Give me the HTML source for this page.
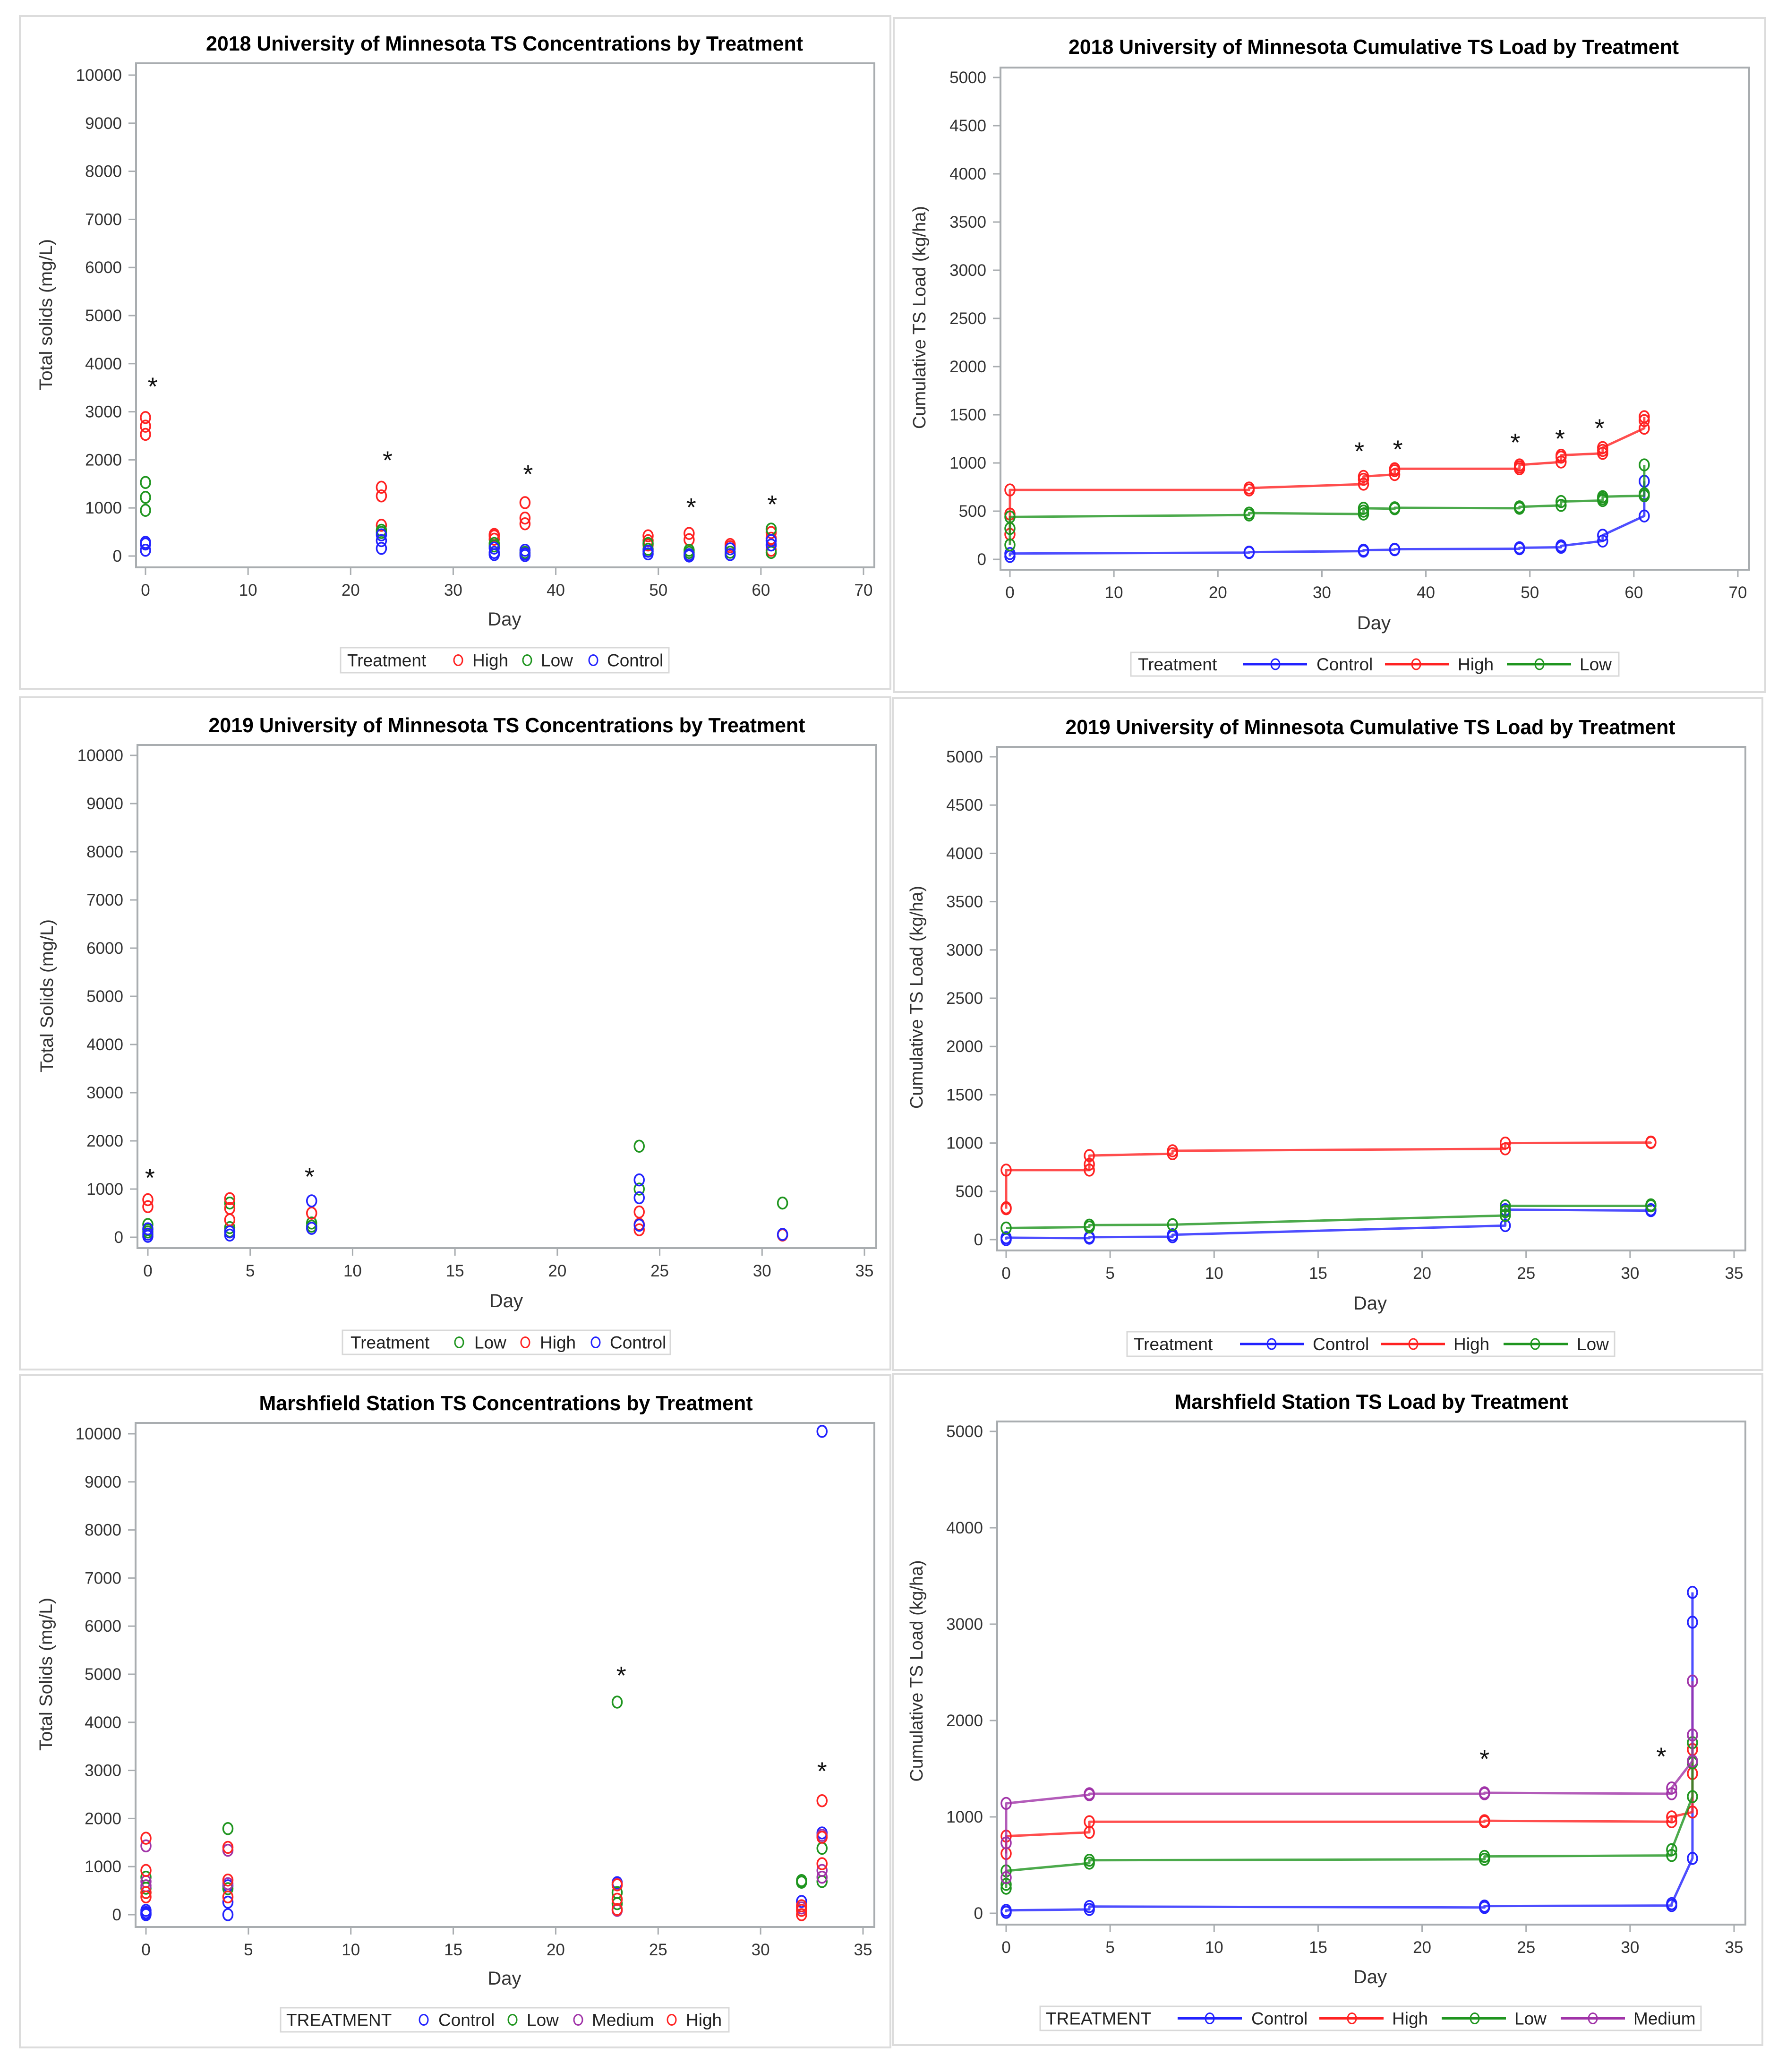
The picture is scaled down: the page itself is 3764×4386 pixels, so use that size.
<!DOCTYPE html>
<html><head><meta charset="utf-8"><style>
html,body{margin:0;padding:0;background:#fff;}
svg{display:block;font-family:"Liberation Sans",Arial,sans-serif;}
</style></head><body>
<svg id="root" width="3764" height="4386" viewBox="0 0 3764 4386" xmlns="http://www.w3.org/2000/svg">
<rect x="0" y="0" width="3764" height="4386" fill="#fff"/>
</svg>
<script>
// ---------- Panel 1: 2018 UMN TS concentrations ----------
const c18HighDay=[0,0,0,23,23,23,34,34,34,37,37,37,49,49,49,53,53,57,57,61,61,61];
const c18HighVal=[2880,2700,2530,1430,1250,640,450,415,350,1110,790,670,420,320,230,470,340,240,195,490,370,120];
const c18LowDay=[0,0,0,23,23,34,34,37,49,49,53,53,57,61,61];
const c18LowVal=[1530,1220,950,535,490,260,210,75,260,140,120,75,80,560,75];
const c18CtrlDay=[0,0,0,23,23,23,34,34,34,37,37,37,49,49,53,53,57,57,61,61];
const c18CtrlVal=[285,250,120,440,320,160,165,75,30,120,45,10,100,45,30,0,150,30,320,230];
const c18StarDay=[0.7,23.6,37.3,53.2,61.1];
const c18StarVal=[3600,2070,1780,1090,1150];
// ---------- Panel 2: 2018 UMN cumulative load ----------
const l18CtrlDay=[0,0,23,23,34,34,37,37,49,49,53,53,57,57,61,61,61];
const l18CtrlVal=[30,60,70,75,85,95,100,105,110,120,125,140,190,250,450,660,810];
const l18HighDay=[0,0,0,23,23,34,34,34,37,37,37,49,49,49,53,53,53,57,57,57,61,61,61];
const l18HighVal=[260,470,720,720,740,780,830,860,880,920,940,940,960,980,1010,1060,1080,1100,1130,1160,1360,1440,1480];
const l18LowDay=[0,0,0,23,23,34,34,34,37,37,49,49,53,53,57,57,57,61,61,61];
const l18LowVal=[150,320,440,460,480,470,500,530,525,535,530,545,560,600,610,630,650,660,680,980];
const l18StarDay=[33.6,37.3,48.6,52.9,56.7];
const l18StarVal=[1160,1180,1250,1290,1400];
// ---------- Panel 3: 2019 UMN TS concentrations ----------
const c19LowDay=[0,0,0,4,4,4,8,8,24,24,31];
const c19LowVal=[265,155,110,710,200,130,295,230,1890,1000,710];
const c19HighDay=[0,0,4,4,4,8,24,24,24,31];
const c19HighVal=[780,635,800,600,360,500,525,270,155,45];
const c19CtrlDay=[0,0,0,4,4,8,8,24,24,24,31];
const c19CtrlVal=[175,65,20,110,45,755,185,1190,820,250,60];
const c19StarDay=[0.1,7.9];
const c19StarVal=[1310,1335];
// ---------- Panel 4: 2019 UMN cumulative load ----------
const l19CtrlDay=[0,0,4,4,8,8,24,24,31,31];
const l19CtrlVal=[0,20,15,25,30,50,145,310,300,310];
const l19HighDay=[0,0,0,4,4,4,8,8,24,24,31,31];
const l19HighVal=[320,330,720,720,780,870,890,920,940,1000,1005,1010];
const l19LowDay=[0,4,4,8,24,24,24,31,31];
const l19LowVal=[120,130,150,155,250,290,350,350,360];
// ---------- Panel 5: Marshfield concentrations ----------
const cmCtrlDay=[0,0,0,0,4,4,4,23,32,33,33];
const cmCtrlVal=[90,45,0,20,600,260,0,665,275,10050,1700];
const cmLowDay=[0,0,0,4,4,23,23,23,32,32,33,33];
const cmLowVal=[780,550,460,1790,540,4420,460,230,710,675,1380,690];
const cmMedDay=[0,0,0,4,4,23,23,32,33,33,33];
const cmMedVal=[1430,600,690,1340,645,630,90,140,1650,920,780];
const cmHighDay=[0,0,0,0,4,4,4,23,23,23,32,32,32,33,33,33];
const cmHighVal=[1590,920,370,460,1400,720,370,620,320,110,185,90,0,2370,1610,1060];
const cmStarDay=[23.2,33.0];
const cmStarVal=[5050,3060];
// ---------- Panel 6: Marshfield load ----------
const lmCtrlDay=[0,0,4,4,23,23,32,32,33,33,33];
const lmCtrlVal=[10,30,40,70,60,75,80,100,570,3020,3330];
const lmHighDay=[0,0,4,4,23,23,32,32,33,33,33];
const lmHighVal=[620,800,840,950,950,960,950,1000,1050,1450,1700];
const lmLowDay=[0,0,0,4,4,23,23,32,32,33,33,33];
const lmLowVal=[260,300,440,520,550,560,590,600,660,1210,1560,1770];
const lmMedDay=[0,0,0,4,4,23,23,32,32,33,33,33];
const lmMedVal=[370,730,1140,1230,1240,1240,1250,1240,1300,1580,1850,2410];
const lmStarDay=[23.0,31.5];
const lmStarVal=[1640,1665];

const NS='http://www.w3.org/2000/svg';
const root=document.getElementById('root');
const COL={Control:'#2222ff',High:'#ff2222',Low:'#1f951f',Medium:'#a033a8'};

function mk(tag,parent){const e=document.createElementNS(NS,tag);parent.appendChild(e);return e;}
function sa(e,o){for(const k in o)e.setAttribute(k,o[k]);}

function drawPanel(cfg){
  const g=mk('g',root);
  
  
  const xs=d=>cfg.x0+(d/cfg.xmax)*(cfg.x1-cfg.x0);
  const ys=v=>cfg.y0-(v/cfg.ymax)*(cfg.y0-cfg.y1);
  // panel border
  const pb=mk('rect',g);
  sa(pb,{x:cfg.box[0],y:cfg.box[1],width:cfg.box[2]-cfg.box[0],height:cfg.box[3]-cfg.box[1],fill:'none',stroke:'#dcdcdc','stroke-width':4});
  
  
  // title
  const t=mk('text',g);
  sa(t,{x:cfg.title[1],y:cfg.title[2],'text-anchor':'middle','font-size':44,'font-weight':'bold',fill:'#000',textLength:cfg.title[3],lengthAdjust:'spacingAndGlyphs'});
  t.textContent=cfg.title[0];
  
  
  // plot frame
  const f=mk('rect',g);
  sa(f,{x:cfg.rect[0],y:cfg.rect[1],width:cfg.rect[2]-cfg.rect[0],height:cfg.rect[3]-cfg.rect[1],fill:'#fff',stroke:'#a9adb0','stroke-width':4});
  
  
  // x ticks
  const xg=mk('g',g);
  
  
  for(let d=0;d<=cfg.xmax;d+=cfg.xstep){
    const tk=mk('line',xg);
    sa(tk,{x1:xs(d),x2:xs(d),y1:cfg.rect[3],y2:cfg.rect[3]+16,stroke:'#a9adb0','stroke-width':3});
    
    
    const lb=mk('text',xg);
    sa(lb,{x:xs(d),y:cfg.rect[3]+60,'text-anchor':'middle','font-size':35,fill:'#333'});
    lb.textContent=String(d);
    
    
  }
  const xt=mk('text',xg);
  sa(xt,{x:(xs(0)+xs(cfg.xmax))/2,y:cfg.dayY,'text-anchor':'middle','font-size':40,fill:'#333'});
  xt.textContent='Day';
  
  
  // y ticks
  const yg=mk('g',g);
  
  
  for(let v=0;v<=cfg.ymax;v+=cfg.ystep){
    const tk=mk('line',yg);
    sa(tk,{x1:cfg.rect[0]-16,x2:cfg.rect[0],y1:ys(v),y2:ys(v),stroke:'#a9adb0','stroke-width':3});
    
    
    const lb=mk('text',yg);
    sa(lb,{x:cfg.rect[0]-30,y:ys(v)+12,'text-anchor':'end','font-size':35,fill:'#333'});
    lb.textContent=String(v);
    
    
  }
  const yt=mk('text',yg);
  sa(yt,{x:0,y:0,'text-anchor':'middle','font-size':38,fill:'#333',transform:'translate('+(cfg.ytitle[1]+13)+','+cfg.ytitle[2]+') rotate(-90)',textLength:cfg.ytitle[3],lengthAdjust:'spacingAndGlyphs'});
  yt.textContent=cfg.ytitle[0];
  
  
  // series
  cfg.series.forEach(s=>{
    const sg=mk('g',g);
    
    
    const idx=s.days.map((d,i)=>i).sort((a,b)=>s.days[a]-s.days[b]||s.vals[a]-s.vals[b]);
    if(cfg.lines){
      const pl=mk('polyline',sg);
      sa(pl,{points:idx.map(i=>xs(s.days[i])+','+ys(s.vals[i])).join(' '),fill:'none',stroke:COL[s.label],'stroke-width':5,'stroke-opacity':0.8,'stroke-linejoin':'round'});
      
      
    }
    idx.forEach(i=>{
      const c=mk('ellipse',sg);
      sa(c,{cx:xs(s.days[i]),cy:ys(s.vals[i]),rx:10,ry:12,fill:'none',stroke:COL[s.label],'stroke-width':3.5});
      
      
    });
  });
  // asterisks
  if(cfg.stars){
    cfg.stars[0].forEach((d,i)=>{
      const a=mk('text',g);
      sa(a,{x:xs(d),y:ys(cfg.stars[1][i])+26,'text-anchor':'middle','font-size':54,fill:'#111'});
      a.textContent='*';
      
      
    });
  }
  // legend
  const L=cfg.legend;
  const lg=mk('g',g);
  
  
  const lr=mk('rect',lg);
  sa(lr,{x:L.box[0],y:L.box[1],width:L.box[2]-L.box[0],height:L.box[3]-L.box[1],fill:'#fff',stroke:'#d8d8d8','stroke-width':3});
  
  
  const by=(L.box[1]+L.box[3])/2;
  const lt=mk('text',lg);
  sa(lt,{x:L.titleX,y:by+13,'font-size':37,fill:'#222'});
  lt.textContent=L.title;
  
  
  L.items.forEach(it=>{
    const eg=mk('g',lg);
    
    
    if(it.line){
      const ln=mk('line',eg);
      sa(ln,{x1:it.line[0],x2:it.line[1],y1:by,y2:by,stroke:COL[it.label],'stroke-width':5});
      
      
    }
    const c=mk('ellipse',eg);
    sa(c,{cx:it.mx,cy:by,rx:9,ry:11,fill:'none',stroke:COL[it.label],'stroke-width':3});
    
    
    const tx=mk('text',eg);
    sa(tx,{x:it.tx,y:by+13,'font-size':37,fill:'#222'});
    tx.textContent=it.label;
    
    
  });
}

drawPanel({name:'chart-2018-concentrations',box:[42,34,1885,1458],
  title:['2018 University of Minnesota TS Concentrations by Treatment',1068,107,1264],
  rect:[288,134,1851,1201],x0:308,x1:1828,xmax:70,xstep:10,y0:1177,y1:159,ymax:10000,ystep:1000,dayY:1324,
  ytitle:['Total solids (mg/L)',97,666,320],lines:false,
  series:[{label:'High',days:c18HighDay,vals:c18HighVal},{label:'Low',days:c18LowDay,vals:c18LowVal},{label:'Control',days:c18CtrlDay,vals:c18CtrlVal}],
  stars:[c18StarDay,c18StarVal],
  legend:{box:[721,1371,1416,1424],title:'Treatment',titleX:735,items:[{label:'High',mx:970,tx:1000},{label:'Low',mx:1116,tx:1145},{label:'Control',mx:1256,tx:1285}]}});

drawPanel({name:'chart-2018-cumulative-load',box:[1892,38,3737,1465],
  title:['2018 University of Minnesota Cumulative TS Load by Treatment',2908,114,1292],
  rect:[2118,143,3703,1206],x0:2138,x1:3679,xmax:70,xstep:10,y0:1184,y1:164,ymax:5000,ystep:500,dayY:1332,
  ytitle:['Cumulative TS Load (kg/ha)',1946,672,472],lines:true,
  series:[{label:'Control',days:l18CtrlDay,vals:l18CtrlVal},{label:'High',days:l18HighDay,vals:l18HighVal},{label:'Low',days:l18LowDay,vals:l18LowVal}],
  stars:[l18StarDay,l18StarVal],
  legend:{box:[2394,1381,3427,1431],title:'Treatment',titleX:2409,items:[{label:'Control',line:[2631,2767],mx:2700,tx:2787},{label:'High',line:[2932,3067],mx:2998,tx:3086},{label:'Low',line:[3190,3326],mx:3259,tx:3344}]}});

drawPanel({name:'chart-2019-concentrations',box:[42,1476,1885,2899],
  title:['2019 University of Minnesota TS Concentrations by Treatment',1073,1550,1263],
  rect:[291,1577,1855,2642],x0:313,x1:1830,xmax:35,xstep:5,y0:2619,y1:1599,ymax:10000,ystep:1000,dayY:2767,
  ytitle:['Total Solids (mg/L)',99,2108,324],lines:false,
  series:[{label:'Low',days:c19LowDay,vals:c19LowVal},{label:'High',days:c19HighDay,vals:c19HighVal},{label:'Control',days:c19CtrlDay,vals:c19CtrlVal}],
  stars:[c19StarDay,c19StarVal],
  legend:{box:[725,2816,1419,2867],title:'Treatment',titleX:742,items:[{label:'Low',mx:972,tx:1004},{label:'High',mx:1112,tx:1143},{label:'Control',mx:1261,tx:1291}]}});

drawPanel({name:'chart-2019-cumulative-load',box:[1890,1478,3731,2900],
  title:['2019 University of Minnesota Cumulative TS Load by Treatment',2901,1554,1291],
  rect:[2111,1581,3695,2647],x0:2130,x1:3671,xmax:35,xstep:5,y0:2624,y1:1602,ymax:5000,ystep:500,dayY:2772,
  ytitle:['Cumulative TS Load (kg/ha)',1940,2111,472],lines:true,
  series:[{label:'Control',days:l19CtrlDay,vals:l19CtrlVal},{label:'High',days:l19HighDay,vals:l19HighVal},{label:'Low',days:l19LowDay,vals:l19LowVal}],
  stars:null,
  legend:{box:[2386,2819,3418,2871],title:'Treatment',titleX:2400,items:[{label:'Control',line:[2625,2761],mx:2692,tx:2779},{label:'High',line:[2923,3059],mx:2992,tx:3077},{label:'Low',line:[3183,3319],mx:3250,tx:3338}]}});

drawPanel({name:'chart-marshfield-concentrations',box:[42,2911,1885,4334],
  title:['Marshfield Station TS Concentrations by Treatment',1071,2985,1045],
  rect:[287,3012,1851,4079],x0:309,x1:1827,xmax:35,xstep:5,y0:4053,y1:3035,ymax:10000,ystep:1000,dayY:4201,
  ytitle:['Total Solids (mg/L)',97,3544,324],lines:false,
  series:[{label:'Control',days:cmCtrlDay,vals:cmCtrlVal},{label:'Low',days:cmLowDay,vals:cmLowVal},{label:'Medium',days:cmMedDay,vals:cmMedVal},{label:'High',days:cmHighDay,vals:cmHighVal}],
  stars:[cmStarDay,cmStarVal],
  legend:{box:[594,4250,1543,4301],title:'TREATMENT',titleX:606,items:[{label:'Control',mx:897,tx:928},{label:'Low',mx:1085,tx:1115},{label:'Medium',mx:1224,tx:1253},{label:'High',mx:1422,tx:1452}]}});

drawPanel({name:'chart-marshfield-load',box:[1890,2908,3731,4329],
  title:['Marshfield Station TS Load by Treatment',2903,2982,833],
  rect:[2111,3009,3695,4074],x0:2130,x1:3671,xmax:35,xstep:5,y0:4050,y1:3030,ymax:5000,ystep:1000,dayY:4198,
  ytitle:['Cumulative TS Load (kg/ha)',1940,3537,469],lines:true,
  series:[{label:'Control',days:lmCtrlDay,vals:lmCtrlVal},{label:'High',days:lmHighDay,vals:lmHighVal},{label:'Low',days:lmLowDay,vals:lmLowVal},{label:'Medium',days:lmMedDay,vals:lmMedVal}],
  stars:[lmStarDay,lmStarVal],
  legend:{box:[2202,4247,3601,4298],title:'TREATMENT',titleX:2214,items:[{label:'Control',line:[2493,2629],mx:2561,tx:2649},{label:'High',line:[2793,2929],mx:2862,tx:2947},{label:'Low',line:[3052,3188],mx:3122,tx:3206},{label:'Medium',line:[3304,3440],mx:3372,tx:3458}]}});
</script>
</body></html>
